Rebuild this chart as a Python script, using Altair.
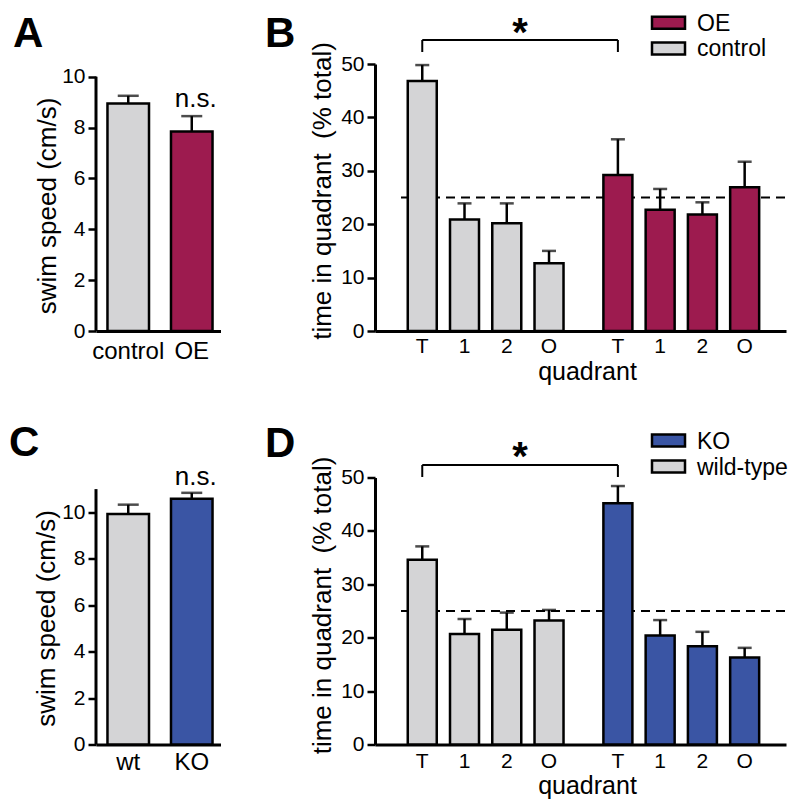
import altair as alt
import pandas as pd

FONT = "Liberation Sans"
GRAY = "#D4D4D6"
MAROON = "#9D1B4F"
BLUE = "#3A55A4"

# ---------------- data ----------------
speed_a_groups = ["control", "OE"]
speed_a_mean = [8.95, 7.85]
speed_a_sem = [0.30, 0.60]

speed_c_groups = ["wt", "KO"]
speed_c_mean = [9.93, 10.58]
speed_c_sem = [0.40, 0.26]

quadrants = ["T", "1", "2", "O"]

b_groups = ["control", "OE"]
b_control_mean = [46.8, 20.9, 20.2, 12.7]
b_control_sem = [3.0, 3.0, 3.7, 2.3]
b_oe_mean = [29.2, 22.7, 21.8, 26.9]
b_oe_sem = [6.7, 3.9, 2.3, 4.8]

d_groups = ["wild-type", "KO"]
d_wt_mean = [34.6, 20.7, 21.5, 23.2]
d_wt_sem = [2.5, 2.8, 3.2, 2.0]
d_ko_mean = [45.2, 20.4, 18.4, 16.3]
d_ko_sem = [3.2, 2.9, 2.7, 1.8]

chance_level = 25

# ---------------- layout ----------------
SW_W = 124.5
Q_W = 411
ROW_H = 267
GROUP_SHIFT = 4.63
LETTER_SIZE = 42
ONE = pd.DataFrame({"k": [0]})


def swim_panel(letter, groups, means, sems, colors, y_top, axis_top, ns_y, title_xy,
               letter_xy, label_pad):
    df = pd.DataFrame({"group": groups, "mean": means,
                       "upper": [m + s for m, s in zip(means, sems)]})
    xscale = alt.Scale(domain=groups, paddingInner=0.346, paddingOuter=0.153, align=0.59)
    x = alt.X("group:N", scale=xscale, sort=groups,
              axis=alt.Axis(title=None, labelAngle=0, ticks=False, labelFontSize=24,
                            labelPadding=label_pad, domainWidth=3, labelBaseline="top"))
    ytitle = "swim speed (cm/s)"
    y = alt.Y("mean:Q", title=ytitle, scale=alt.Scale(domain=[0, y_top], nice=False),
              axis=alt.Axis(values=list(range(0, int(axis_top) + 1, 2)), domain=False,
                            title=ytitle, titleX=title_xy[0], titleY=title_xy[1],
                            titleAngle=270, titleBaseline="middle", titleAlign="center",
                            titleFontSize=26, labelFontSize=21, tickSize=8, tickWidth=2.5,
                            labelPadding=3))
    base = alt.Chart(df)
    bars = base.mark_bar(stroke="black", strokeWidth=2.5).encode(
        x=x, y=y,
        color=alt.Color("group:N", scale=alt.Scale(domain=groups, range=colors), legend=None))
    err = base.mark_rule(color="black", strokeWidth=2.5).encode(
        x=alt.X("group:N", sort=groups), y=alt.Y("mean:Q", title=ytitle), y2="upper:Q")
    cap = base.mark_tick(color="black", orient="horizontal", size=21, thickness=2.5).encode(
        x=alt.X("group:N", sort=groups), y=alt.Y("upper:Q", title=ytitle))
    axis_line = alt.Chart(ONE).mark_rule(color="black", strokeWidth=3).encode(
        x=alt.value(0), y=alt.datum(0), y2=alt.datum(axis_top))
    ns = alt.Chart(ONE).mark_text(text="n.s.", fontSize=26, baseline="alphabetic", dx=4).encode(
        x=alt.datum(groups[1]), y=alt.value(ns_y))
    lab = alt.Chart(ONE).mark_text(text=letter, fontSize=LETTER_SIZE, fontWeight="bold",
                                   align="left", baseline="alphabetic").encode(
        x=alt.value(letter_xy[0]), y=alt.value(letter_xy[1]))
    return alt.layer(bars, err, cap, axis_line, ns, lab).properties(width=SW_W, height=ROW_H)


def quad_panel(letter, groups, means_list, sems_list, colors, legend_order, cfg):
    rows = []
    for g, (grp, means, sems) in enumerate(zip(groups, means_list, sems_list)):
        for i, (q, m, s) in enumerate(zip(quadrants, means, sems)):
            rows.append({"pos": i + g * GROUP_SHIFT, "group": grp, "quadrant": q,
                         "mean": m, "upper": m + s})
    df = pd.DataFrame(rows)
    t_pos = df[df["quadrant"] == "T"]["pos"].tolist()
    ytitle = "time in quadrant\u00a0 (% total)"
    x = alt.X("pos:Q", scale=alt.Scale(domain=[-1.0, 8.49], nice=False, zero=False),
              axis=alt.Axis(labels=False, ticks=False, grid=False, domainWidth=3,
                            title="quadrant", titleFontSize=25, titleX=212, titleY=cfg["qt_y"],
                            titleBaseline="alphabetic", titleAlign="center"))
    y = alt.Y("mean:Q", title=ytitle, stack=None,
              scale=alt.Scale(domain=[0, 50], nice=False),
              axis=alt.Axis(values=[0, 10, 20, 30, 40, 50], domainWidth=3, title=ytitle,
                            titleX=-53, titleY=cfg["yt_y"], titleAngle=270,
                            titleBaseline="middle", titleAlign="center", titleFontSize=26,
                            labelFontSize=21, tickSize=8, tickWidth=2.5, labelPadding=3))
    cscale = alt.Scale(domain=groups, range=colors)
    color = alt.Color("group:N", scale=cscale, legend=None)
    base = alt.Chart(df)
    dashed = alt.Chart(ONE).mark_rule(color="black", strokeWidth=2, strokeDash=[9, 6]).encode(
        x=alt.value(26), x2=alt.value(Q_W), y=alt.datum(chance_level))
    bars = base.mark_bar(stroke="black", strokeWidth=2.5, size=29, orient="vertical").encode(
        x=x, y=y, color=color)
    err = base.mark_rule(color="black", strokeWidth=2.5).encode(
        x="pos:Q", y=alt.Y("mean:Q", title=ytitle), y2="upper:Q")
    cap = base.mark_tick(color="black", orient="horizontal", size=14, thickness=2.5).encode(
        x="pos:Q", y=alt.Y("upper:Q", title=ytitle))
    qlab = base.mark_text(fontSize=21, baseline="alphabetic").encode(
        x="pos:Q", y=alt.value(ROW_H + cfg["ql_dy"]), text="quadrant:N")
    br_df = pd.DataFrame({"x1": [t_pos[0]], "x2": [t_pos[1]]})
    br_top = alt.Chart(br_df).mark_rule(color="black", strokeWidth=2).encode(
        x="x1:Q", x2="x2:Q", y=alt.value(cfg["br_top"]))
    br_ends_df = pd.DataFrame({"x": t_pos})
    br_ends = alt.Chart(br_ends_df).mark_rule(color="black", strokeWidth=2).encode(
        x="x:Q", y=alt.value(cfg["br_top"]), y2=alt.value(cfg["br_end"]))
    star_df = pd.DataFrame({"x": [sum(t_pos) / 2]})
    star = alt.Chart(star_df).mark_text(text="*", fontSize=40, fontWeight="bold",
                                        baseline="alphabetic").encode(
        x="x:Q", y=alt.value(cfg["star_y"]))
    lab = alt.Chart(ONE).mark_text(text=letter, fontSize=LETTER_SIZE, fontWeight="bold",
                                   align="left", baseline="alphabetic").encode(
        x=alt.value(-110), y=alt.value(cfg["letter_y"]))
    # legend: swatch + label for each group, in legend order
    legend_layers = []
    for i, grp in enumerate(legend_order):
        cy = cfg["leg_y"][i]
        ldf = pd.DataFrame({"group": [grp]})
        sw = alt.Chart(ldf).mark_rect(stroke="black", strokeWidth=2.5).encode(
            x=alt.value(277), x2=alt.value(310), y=alt.value(cy - 6), y2=alt.value(cy + 6),
            color=alt.Color("group:N", scale=cscale, legend=None))
        tx = alt.Chart(ldf).mark_text(fontSize=23, align="left", baseline="middle").encode(
            x=alt.value(322), y=alt.value(cy + 1), text="group:N")
        legend_layers += [sw, tx]
    return alt.layer(dashed, bars, err, cap, qlab, br_top, br_ends, star, lab,
                     *legend_layers).properties(width=Q_W, height=ROW_H)


panel_a = swim_panel("A", speed_a_groups, speed_a_mean, speed_a_sem, [GRAY, MAROON],
                     y_top=10.5, axis_top=10, ns_y=43, title_xy=(-49, 141.5),
                     letter_xy=(-83, -17), label_pad=8)
panel_c = swim_panel("C", speed_c_groups, speed_c_mean, speed_c_sem, [GRAY, BLUE],
                     y_top=11.5, axis_top=11, ns_y=7.5, title_xy=(-49.5, 140.5),
                     letter_xy=(-87, -21.5), label_pad=6)

panel_b = quad_panel("B", b_groups, [b_control_mean, b_oe_mean], [b_control_sem, b_oe_sem],
                     [GRAY, MAROON], ["OE", "control"],
                     dict(qt_y=48, yt_y=126.5, leg_y=[-41.3, -15.6], ql_dy=22, br_top=-24,
                          br_end=-12, star_y=-18.5, letter_y=-17))
panel_d = quad_panel("D", d_groups, [d_wt_mean, d_ko_mean], [d_wt_sem, d_ko_sem],
                     [GRAY, BLUE], ["KO", "wild-type"],
                     dict(qt_y=48.5, yt_y=127.5, leg_y=[-37, -11], ql_dy=23, br_top=-12.5,
                          br_end=-0.5, star_y=-8, letter_y=-20.5))

chart = alt.concat(
    panel_a, panel_b, panel_c, panel_d,
    columns=2, spacing={"row": 146.5, "column": 154}, bounds="flush"
).resolve_scale(
    color="independent", x="independent", y="independent"
).properties(
    padding={"left": 0, "top": 4, "right": 0, "bottom": 0}
).configure(
    font=FONT
).configure_view(
    stroke="transparent"
).configure_axis(
    domainColor="black", tickColor="black", labelColor="black", titleColor="black",
    grid=False, labelFont=FONT, titleFont=FONT, titleFontWeight="normal"
).configure_text(color="black", font=FONT)

chart.save("out.html", embed_options={"renderer": "svg", "actions": False})
